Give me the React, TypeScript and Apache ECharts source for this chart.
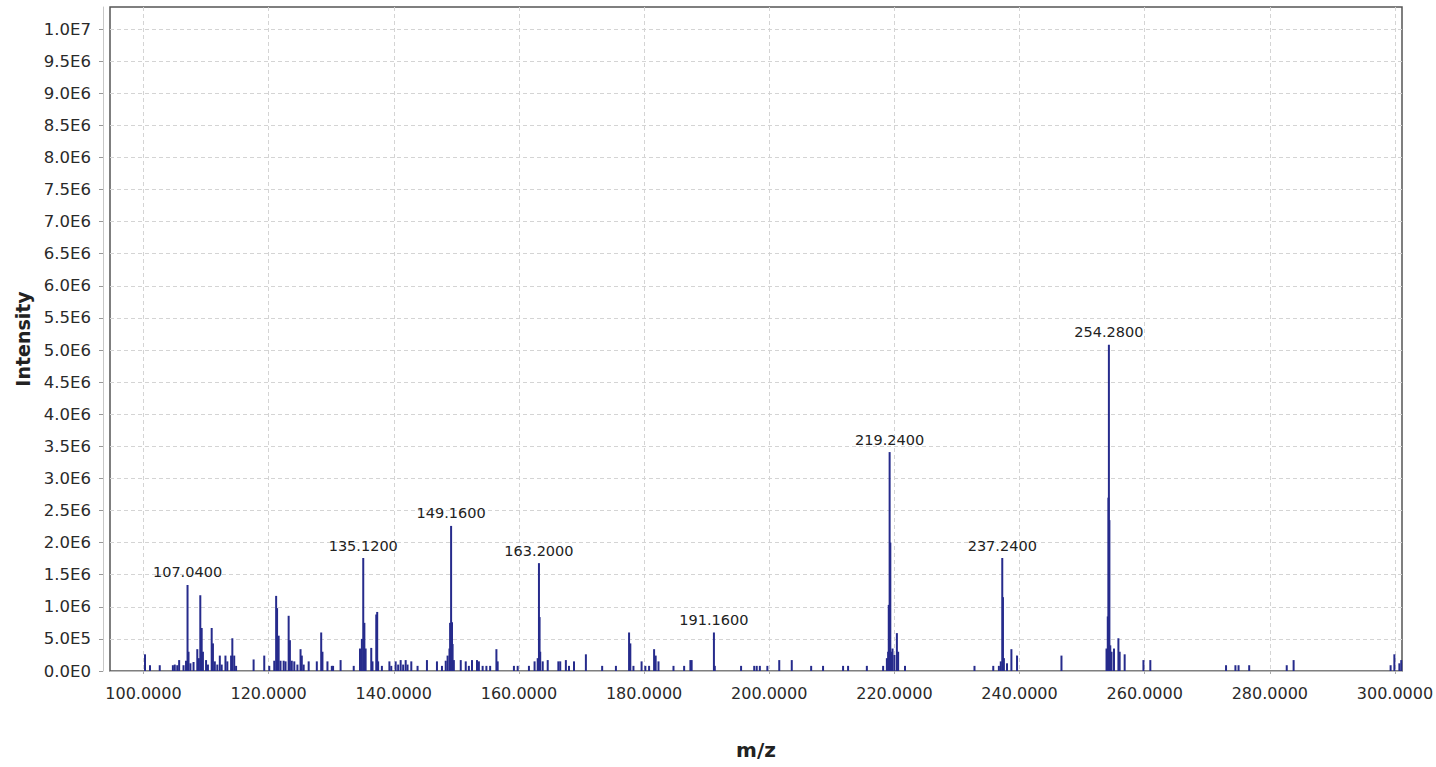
import React, { useEffect, useRef } from "react";
import * as echarts from "echarts";

// m/z positions of the spectrum lines
const mzValues: number[] = [
  100.24, 101.04, 102.6, 104.7, 105.0, 105.4, 105.7, 106.4, 106.8, 107.04,
  107.2, 107.5, 108.0, 108.6, 108.85, 109.08, 109.3, 109.5, 110.0, 110.3,
  110.9, 111.1, 111.4, 111.8, 112.2, 112.5, 113.1, 113.4, 114.0, 114.2,
  114.5, 114.8, 117.6, 119.3, 120.1, 120.9, 121.2, 121.35, 121.6, 121.9,
  122.4, 122.7, 123.2, 123.4, 123.7, 124.1, 124.6, 125.1, 125.3, 125.6,
  126.4, 127.7, 128.4, 128.6, 129.4, 130.1, 130.3, 131.5, 133.6, 134.6,
  134.9, 135.12, 135.3, 135.5, 136.4, 136.6, 137.2, 137.35, 137.5, 138.1,
  139.3, 139.6, 140.3, 140.7, 141.1, 141.5, 141.9, 142.2, 142.8, 143.8,
  145.3, 146.9, 147.7, 148.3, 148.6, 148.9, 149.0, 149.16, 149.3, 149.4,
  149.6, 150.7, 151.5, 152.0, 152.5, 153.3, 153.6, 154.2, 154.8, 155.4,
  156.4, 156.6, 159.2, 159.8, 161.6, 162.5, 163.0, 163.2, 163.3, 163.4,
  163.8, 164.6, 166.3, 166.6, 167.5, 168.0, 168.8, 170.7, 173.3, 175.5,
  177.6, 177.8, 178.3, 179.6, 180.2, 180.8, 181.6, 181.85, 182.3, 184.7,
  186.4, 187.4, 187.6, 191.16, 191.3, 195.5, 197.6, 198.0, 198.5, 199.7,
  201.6, 203.6, 206.7, 208.6, 211.8, 212.6, 215.6, 218.2, 218.8, 219.0,
  219.1, 219.24, 219.35, 219.5, 219.7, 220.0, 220.4, 220.6, 221.7, 232.8,
  235.8, 236.7, 237.0, 237.24, 237.35, 237.5, 238.0, 238.7, 239.6, 246.7,
  253.9, 254.1, 254.2, 254.28, 254.36, 254.5, 254.7, 255.1, 255.8, 256.0,
  256.8, 259.8, 260.9, 273.0, 274.5, 275.0, 276.7, 282.7, 283.8, 299.3,
  299.9, 300.7, 301.0,
];

// intensities of the lines above, in units of 1E6
const intensityMillions: number[] = [
  0.26, 0.09, 0.09, 0.09, 0.1, 0.09, 0.17, 0.09, 0.16, 1.34,
  0.3, 0.12, 0.14, 0.34, 0.2, 1.18, 0.67, 0.3, 0.17, 0.1,
  0.67, 0.43, 0.15, 0.1, 0.24, 0.1, 0.24, 0.15, 0.24, 0.51,
  0.24, 0.08, 0.18, 0.24, 0.08, 0.16, 1.17, 0.98, 0.55, 0.16,
  0.16, 0.15, 0.86, 0.48, 0.16, 0.15, 0.1, 0.34, 0.24, 0.1,
  0.15, 0.15, 0.6, 0.3, 0.15, 0.08, 0.08, 0.17, 0.08, 0.35,
  0.5, 1.76, 0.75, 0.35, 0.36, 0.15, 0.88, 0.92, 0.15, 0.08,
  0.15, 0.08, 0.15, 0.1, 0.17, 0.1, 0.17, 0.1, 0.15, 0.08,
  0.17, 0.15, 0.08, 0.16, 0.24, 0.35, 0.75, 2.26, 0.76, 0.42,
  0.17, 0.17, 0.15, 0.08, 0.17, 0.17, 0.15, 0.08, 0.08, 0.08,
  0.34, 0.15, 0.08, 0.08, 0.08, 0.15, 0.2, 1.68, 0.84, 0.3,
  0.15, 0.17, 0.15, 0.15, 0.17, 0.08, 0.15, 0.26, 0.08, 0.08,
  0.6, 0.43, 0.08, 0.15, 0.08, 0.08, 0.34, 0.24, 0.15, 0.08,
  0.08, 0.17, 0.17, 0.6, 0.08, 0.08, 0.08, 0.08, 0.08, 0.08,
  0.17, 0.17, 0.08, 0.08, 0.08, 0.08, 0.08, 0.08, 0.2, 0.3,
  1.03, 3.41, 2.0, 0.3, 0.35, 0.25, 0.59, 0.3, 0.08, 0.08,
  0.08, 0.08, 0.15, 1.76, 1.15, 0.2, 0.12, 0.34, 0.24, 0.24,
  0.35, 0.85, 2.7, 5.08, 2.35, 0.4, 0.3, 0.35, 0.51, 0.3,
  0.26, 0.17, 0.17, 0.09, 0.09, 0.09, 0.09, 0.09, 0.17, 0.09,
  0.26, 0.12, 0.17,
];

// lines annotated with their m/z
const labeledPeaks: number[] = [107.04, 135.12, 149.16, 163.2, 191.16, 219.24, 237.24, 254.28];

const FONT = "DejaVu Sans";

// 5.0E5 style tick labels; only multiples of 0.5E6 are labelled
const sciLabel = (v: number): string => {
  if (Math.abs(v / 5e5 - Math.round(v / 5e5)) > 1e-6) return "";
  if (v === 0) return "0.0E0";
  const e = Math.floor(Math.log10(v) + 1e-9);
  return (v / Math.pow(10, e)).toFixed(1) + "E" + e;
};

export default function App() {
  const ref = useRef<HTMLDivElement>(null);

  useEffect(() => {
    if (!ref.current) return;
    const chart = echarts.init(ref.current, undefined, { renderer: "svg" });

    const data = mzValues.map((mz, i) => {
      const item: any = { value: [mz, intensityMillions[i] * 1e6] };
      if (labeledPeaks.includes(mz)) {
        item.label = {
          show: true,
          position: "top",
          distance: 5,
          formatter: mz.toFixed(4),
          fontFamily: FONT,
          fontSize: 14.5,
          color: "#222",
        };
      }
      return item;
    });

    const gridLine = {
      show: true,
      showMinLine: false,
      showMaxLine: false,
      lineStyle: { color: "#d4d4d4", type: [4, 3] as any, width: 1 },
    };

    chart.setOption({
      animation: false,
      backgroundColor: "#ffffff",
      grid: {
        left: 110,
        right: 34,
        top: 7,
        bottom: 96,
        outerBoundsMode: "none",
        containLabel: false,
        show: true,
        borderColor: "#555",
        borderWidth: 1.5,
        backgroundColor: "transparent",
      },
      xAxis: {
        type: "value",
        min: 94.65,
        max: 301.12,
        splitNumber: 10,
        offset: 6,
        name: "m/z",
        nameLocation: "middle",
        nameGap: 63,
        nameTextStyle: { fontFamily: FONT, fontSize: 20, fontWeight: "bold", color: "#222" },
        axisLine: { show: true, lineStyle: { color: "#bbb", width: 1 } },
        axisTick: { show: true, length: 3, lineStyle: { color: "#aaa" } },
        axisLabel: {
          showMinLabel: false,
          showMaxLabel: false,
          margin: 8,
          fontFamily: FONT,
          fontSize: 16,
          color: "#2a2a2a",
          formatter: (v: number) => (Math.abs(v % 20) < 1e-6 ? v.toFixed(4) : ""),
        },
        splitLine: gridLine,
      },
      yAxis: {
        type: "value",
        min: 0,
        max: 10.343e6,
        interval: 5e5,
        offset: 7,
        name: "Intensity",
        nameLocation: "middle",
        nameGap: 69,
        nameTextStyle: { fontFamily: FONT, fontSize: 19, fontWeight: "bold", color: "#222" },
        axisLine: { show: true, lineStyle: { color: "#c8c8c8", width: 1 } },
        axisTick: { show: true, length: 4, lineStyle: { color: "#999" } },
        axisLabel: {
          showMaxLabel: false,
          margin: 12,
          fontFamily: FONT,
          fontSize: 16.5,
          color: "#2a2a2a",
          formatter: sciLabel,
        },
        splitLine: gridLine,
      },
      series: [
        {
          type: "bar",
          data,
          barWidth: 2,
          barGap: "-100%",
          itemStyle: { color: "#262b8c" },
          emphasis: { disabled: true },
        },
      ],
    });

    return () => chart.dispose();
  }, []);

  return (
    <div
      ref={ref}
      style={{ position: "absolute", left: 0, top: 0, width: 1436, height: 767, overflow: "hidden", background: "#fff" }}
    />
  );
}
